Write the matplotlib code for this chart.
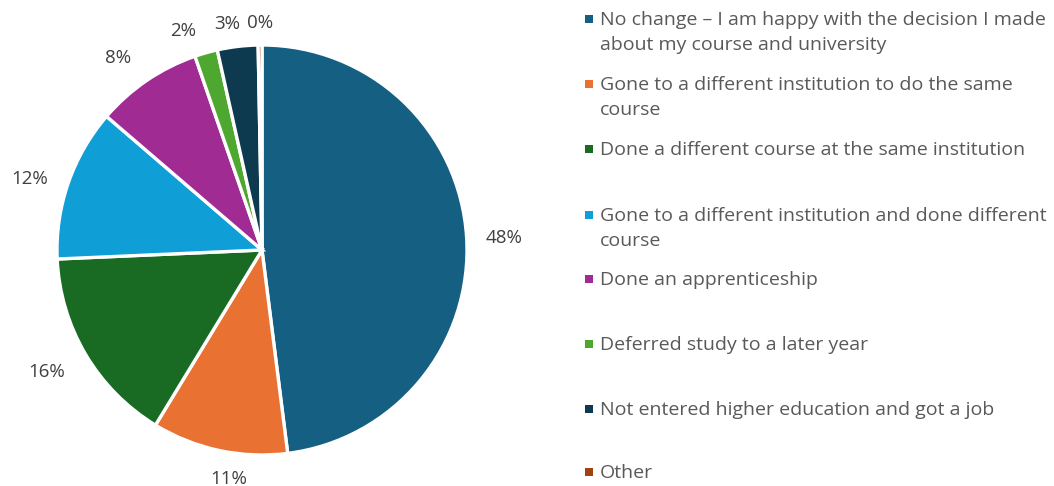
import numpy as np
import matplotlib.pyplot as plt

categories = [
    "No change \u2013 I am happy with the decision I made\nabout my course and university",
    "Gone to a different institution to do the same\ncourse",
    "Done a different course at the same institution",
    "Gone to a different institution and done different\ncourse",
    "Done an apprenticeship",
    "Deferred study to a later year",
    "Not entered higher education and got a job",
    "Other",
]
shares = [48.0, 10.7, 15.6, 12.0, 8.4, 1.8, 3.2, 0.3]
colors = ["#156082", "#E97132", "#196B24", "#0F9ED5", "#A02B93",
          "#4EA72E", "#0D3A4E", "#A0420F"]

W, H = 1054, 486
FONT = "Open Sans"
fig = plt.figure(figsize=(W / 100, H / 100), dpi=100)
ax = fig.add_axes([0, 0, 1, 1])

cx, cy, r = 262, H - 250, 205
wedges, _ = ax.pie(
    shares, colors=colors, startangle=90, counterclock=False,
    center=(cx, cy), radius=r,
    wedgeprops=dict(edgecolor="white", linewidth=2.4),
)
ax.set_xlim(0, W)
ax.set_ylim(0, H)
ax.set_aspect("auto")
ax.axis("off")

# percentage labels placed just outside each wedge, offset by half the text box,
# with small per-label nudges (pixels, x right / y down) to keep them clear
renderer = fig.canvas.get_renderer()
gap = 17
nudges = [(2, 2), (17, 5), (-8, 5), (-5, 4), (-12, -2), (-15, 1), (-7, 2), (0, 2)]
for w, v, (nx, ny) in zip(wedges, shares, nudges):
    theta = np.deg2rad((w.theta1 + w.theta2) / 2)
    t = ax.text(0, 0, f"{v:.0f}%", color="#404040", fontsize=13.5,
                family=FONT, ha="center", va="center")
    bb = t.get_window_extent(renderer)
    tw, th = bb.width, bb.height * 0.8
    x = cx + (r + gap) * np.cos(theta) + tw / 2 * np.cos(theta) + nx
    y = cy + (r + gap) * np.sin(theta) + th / 2 * np.sin(theta) - ny
    t.set_position((x, y))

# legend drawn as rows of square markers and wrapped text
baselines = [25, 90, 155, 221, 285, 350, 415, 478]
line_step = 25
for lab, col, yb in zip(categories, colors, baselines):
    ax.scatter([589], [H - yb + 6], marker="s", s=26, color=col,
               linewidths=0, clip_on=False)
    for i, line in enumerate(lab.split("\n")):
        ax.text(600, H - yb - i * line_step, line, color="#595959",
                fontsize=14, family=FONT, va="baseline", ha="left")

fig.savefig("out.png", dpi=100)
